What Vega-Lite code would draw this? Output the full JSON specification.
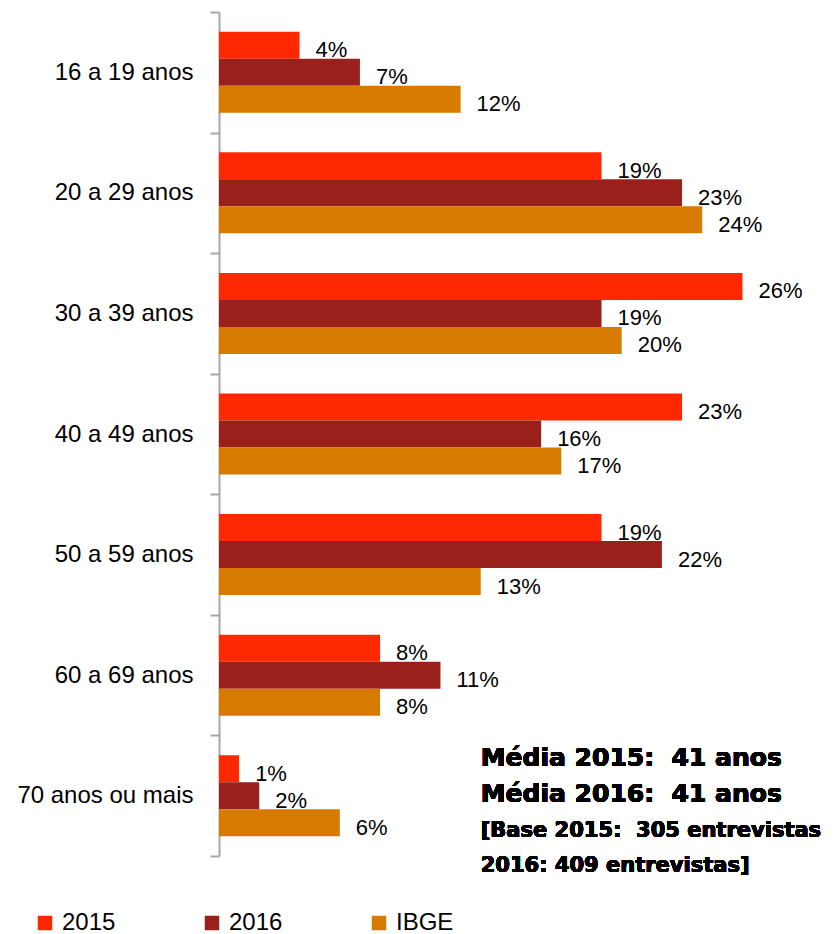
{
  "$schema": "https://vega.github.io/schema/vega-lite/v6.json",
  "width": 604,
  "height": 844,
  "autosize": {"type": "none"},
  "padding": {"left": 219, "top": 12, "right": 15, "bottom": 78},
  "background": "white",
  "config": {"view": {"stroke": null}, "font": "Liberation Sans"},
  "data": {"values": [
    {"faixa": "16 a 19 anos", "serie": "2015", "valor": 0.04},
    {"faixa": "16 a 19 anos", "serie": "2016", "valor": 0.07},
    {"faixa": "16 a 19 anos", "serie": "IBGE", "valor": 0.12},
    {"faixa": "20 a 29 anos", "serie": "2015", "valor": 0.19},
    {"faixa": "20 a 29 anos", "serie": "2016", "valor": 0.23},
    {"faixa": "20 a 29 anos", "serie": "IBGE", "valor": 0.24},
    {"faixa": "30 a 39 anos", "serie": "2015", "valor": 0.26},
    {"faixa": "30 a 39 anos", "serie": "2016", "valor": 0.19},
    {"faixa": "30 a 39 anos", "serie": "IBGE", "valor": 0.20},
    {"faixa": "40 a 49 anos", "serie": "2015", "valor": 0.23},
    {"faixa": "40 a 49 anos", "serie": "2016", "valor": 0.16},
    {"faixa": "40 a 49 anos", "serie": "IBGE", "valor": 0.17},
    {"faixa": "50 a 59 anos", "serie": "2015", "valor": 0.19},
    {"faixa": "50 a 59 anos", "serie": "2016", "valor": 0.22},
    {"faixa": "50 a 59 anos", "serie": "IBGE", "valor": 0.13},
    {"faixa": "60 a 69 anos", "serie": "2015", "valor": 0.08},
    {"faixa": "60 a 69 anos", "serie": "2016", "valor": 0.11},
    {"faixa": "60 a 69 anos", "serie": "IBGE", "valor": 0.08},
    {"faixa": "70 anos ou mais", "serie": "2015", "valor": 0.01},
    {"faixa": "70 anos ou mais", "serie": "2016", "valor": 0.02},
    {"faixa": "70 anos ou mais", "serie": "IBGE", "valor": 0.06}
  ]},
  "encoding": {
    "y": {
      "field": "faixa", "type": "nominal",
      "sort": ["16 a 19 anos", "20 a 29 anos", "30 a 39 anos", "40 a 49 anos", "50 a 59 anos", "60 a 69 anos", "70 anos ou mais"],
      "scale": {"paddingInner": 0, "paddingOuter": 0},
      "axis": {"title": null, "tickBand": "extent", "domainColor": "#a6a6a6", "domainWidth": 2, "tickColor": "#a6a6a6", "tickWidth": 2, "tickSize": 9, "labelPadding": 17, "labelFontSize": 24, "labelColor": "#000000", "labelFont": "Liberation Sans"}
    },
    "x": {"field": "valor", "type": "quantitative", "scale": {"domain": [0, 0.30], "nice": false}, "axis": null}
  },
  "layer": [
    {
      "mark": {"type": "bar"},
      "encoding": {
        "yOffset": {"field": "serie", "sort": ["2015", "2016", "IBGE"], "scale": {"paddingInner": 0, "paddingOuter": 0.733}},
        "color": {
          "field": "serie", "type": "nominal",
          "scale": {"domain": ["2015", "2016", "IBGE"], "range": ["#FF2800", "#9A201B", "#D77A00"]},
          "legend": {"orient": "none", "legendX": -186, "legendY": 899, "direction": "horizontal", "columns": 3, "gridAlign": "all", "columnPadding": 80, "title": null, "symbolType": "square", "symbolSize": 210, "symbolStrokeWidth": 0, "labelFontSize": 24, "labelColor": "#000000", "labelOffset": 5, "padding": 0}
        }
      }
    },
    {
      "mark": {"type": "text", "align": "left", "baseline": "middle", "dx": 16, "dy": 5, "fontSize": 22, "color": "#000000"},
      "encoding": {
        "yOffset": {"field": "serie", "sort": ["2015", "2016", "IBGE"], "scale": {"paddingInner": 0, "paddingOuter": 0.733}},
        "text": {"field": "valor", "type": "quantitative", "format": ".0%"}
      }
    },
    {
      "mark": {"type": "text", "align": "left", "baseline": "alphabetic", "dy": -30, "fontSize": 25, "font": "DejaVu Sans", "fontWeight": "bold", "color": "#000000"},
      "encoding": {"x": {"datum": 0.13}, "y": {"datum": "70 anos ou mais"}, "text": {"value": "Média 2015:\u00a0 41 anos"}}
    },
    {
      "mark": {"type": "text", "align": "left", "baseline": "alphabetic", "dy": 6, "fontSize": 25, "font": "DejaVu Sans", "fontWeight": "bold", "color": "#000000"},
      "encoding": {"x": {"datum": 0.13}, "y": {"datum": "70 anos ou mais"}, "text": {"value": "Média 2016:\u00a0 41 anos"}}
    },
    {
      "mark": {"type": "text", "align": "left", "baseline": "alphabetic", "dy": 41, "fontSize": 21, "font": "DejaVu Sans", "fontWeight": "bold", "color": "#000000"},
      "encoding": {"x": {"datum": 0.13}, "y": {"datum": "70 anos ou mais"}, "text": {"value": "[Base 2015:\u00a0 305 entrevistas"}}
    },
    {
      "mark": {"type": "text", "align": "left", "baseline": "alphabetic", "dy": 76, "fontSize": 21, "font": "DejaVu Sans", "fontWeight": "bold", "color": "#000000"},
      "encoding": {"x": {"datum": 0.13}, "y": {"datum": "70 anos ou mais"}, "text": {"value": "2016: 409 entrevistas]"}}
    }
  ]
}
